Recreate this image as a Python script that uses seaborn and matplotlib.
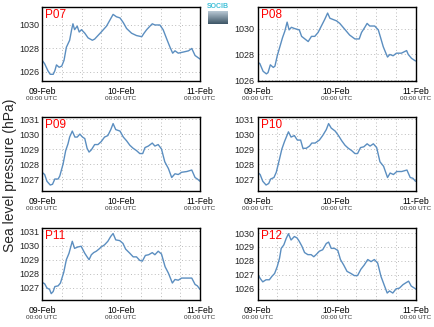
import numpy as np
import pandas as pd
import matplotlib
matplotlib.use("Agg")
import matplotlib.pyplot as plt
import matplotlib.transforms as mtransforms
from matplotlib.ticker import FixedLocator, MultipleLocator
import seaborn as sns

# ---------------- data (hours after 09-Feb 00:00 UTC, hPa) ----------------
stations = ["P07", "P08", "P09", "P10", "P11", "P12"]

p07_hours = [0, 0.8, 1.8, 2.5, 3.4, 3.9, 4.4, 5.2, 6.0, 6.7, 7.4, 8.4, 9.0, 9.4, 9.9, 10.7, 11.3, 12.0, 13.0,
             14.0, 15.3, 16.0, 17.0, 18.0, 19.6, 20.6, 21.6, 22.6, 23.7, 24.7, 25.7, 27.2, 28.7, 30.3, 31.0,
             31.8, 32.8, 33.5, 34.3, 35.8, 36.8, 37.9, 38.9, 39.7, 40.4, 41.4, 43.0, 44.5, 45.5, 46.5, 48.0]
p07_hpa = [1027.0, 1026.7, 1026.1, 1025.8, 1025.8, 1026.1, 1026.6, 1026.4, 1026.5, 1027.0, 1028.1, 1028.7,
           1029.6, 1030.1, 1029.6, 1029.9, 1029.4, 1029.6, 1029.3, 1028.9, 1028.7, 1028.8, 1029.1, 1029.4,
           1029.9, 1030.4, 1030.9, 1030.7, 1030.6, 1030.2, 1029.7, 1029.3, 1029.1, 1029.0, 1029.3, 1029.6,
           1029.9, 1030.1, 1030.0, 1030.0, 1029.6, 1028.8, 1028.1, 1027.6, 1027.8, 1027.6, 1027.7, 1027.8,
           1028.0, 1027.4, 1027.1]

p08_hours = [0, 0.7, 1.7, 2.7, 3.2, 3.9, 4.8, 5.3, 6.0, 6.8, 7.6, 8.3, 9.0, 9.6, 10.3, 11.3, 12.7, 13.4, 14.4,
             15.4, 16.4, 17.4, 18.4, 19.4, 20.4, 21.3, 22.0, 23.0, 24.0, 25.0, 26.0, 27.0, 28.0, 29.6, 30.9,
             31.6, 32.6, 33.3, 34.1, 35.6, 36.7, 37.4, 38.2, 39.0, 39.5, 40.2, 41.2, 42.2, 43.7, 45.3, 45.8,
             46.8, 48.0]
p08_hpa = [1027.4, 1027.3, 1026.7, 1026.5, 1026.6, 1027.2, 1027.0, 1027.1, 1027.9, 1028.6, 1029.3, 1029.8,
           1030.5, 1029.9, 1030.1, 1030.0, 1029.9, 1029.4, 1029.2, 1029.0, 1029.4, 1029.4, 1029.7, 1030.2,
           1030.7, 1031.2, 1030.8, 1030.7, 1030.6, 1030.4, 1030.1, 1029.8, 1029.5, 1029.2, 1029.2, 1029.7,
           1030.1, 1030.4, 1030.2, 1030.2, 1029.9, 1029.3, 1028.6, 1028.1, 1027.8, 1028.0, 1027.9, 1028.1,
           1028.1, 1028.3, 1028.0, 1027.7, 1027.5]

p09_hours = [0, 0.8, 1.5, 2.5, 3.2, 3.9, 4.9, 5.4, 6.4, 7.2, 7.9, 8.4, 9.2, 10.0, 10.7, 11.5, 12.3, 13.0, 13.7,
             14.3, 15.0, 16.0, 17.0, 18.0, 19.0, 20.0, 20.9, 21.6, 22.4, 23.7, 24.7, 25.7, 26.7, 27.7, 28.7,
             29.7, 30.6, 31.3, 32.3, 33.5, 34.3, 35.3, 36.3, 37.3, 38.4, 39.4, 40.4, 41.4, 42.4, 44.0, 45.5,
             46.5, 47.2, 48.0]
p09_hpa = [1027.45, 1027.3, 1026.85, 1026.6, 1026.65, 1027.0, 1027.0, 1027.2, 1028.0, 1028.9, 1029.35,
           1029.8, 1030.2, 1029.8, 1029.8, 1030.0, 1029.8, 1029.7, 1029.05, 1028.8, 1028.95, 1029.3, 1029.3,
           1029.5, 1029.8, 1029.9, 1030.3, 1030.7, 1030.3, 1030.2, 1029.8, 1029.55, 1029.25, 1029.05, 1028.9,
           1028.7, 1028.7, 1029.1, 1029.2, 1029.4, 1029.2, 1029.3, 1029.0, 1028.15, 1027.7, 1027.1, 1027.35,
           1027.3, 1027.45, 1027.5, 1027.6, 1027.1, 1027.0, 1026.85]

p10_hours = [0, 0.8, 1.6, 2.6, 3.4, 4.0, 5.0, 5.7, 6.7, 7.4, 8.2, 9.4, 10.2, 11.2, 12.1, 13.1, 13.8, 14.8,
             15.8, 16.5, 17.5, 18.8, 19.8, 20.9, 21.6, 22.4, 23.6, 24.6, 25.6, 26.6, 27.6, 28.6, 29.6, 30.4,
             31.3, 32.3, 33.3, 34.2, 35.2, 36.2, 37.2, 38.3, 39.5, 40.3, 41.3, 42.3, 43.8, 45.4, 46.4, 47.2, 48.0]
p10_hpa = [1027.45, 1027.3, 1026.85, 1026.6, 1026.7, 1027.0, 1027.1, 1027.45, 1028.35, 1029.0, 1029.5,
           1030.15, 1029.8, 1029.9, 1029.6, 1029.6, 1029.05, 1029.05, 1029.2, 1029.4, 1029.4, 1029.6, 1029.9,
           1030.3, 1030.7, 1030.4, 1030.2, 1029.9, 1029.55, 1029.25, 1029.05, 1028.9, 1028.7, 1028.7, 1029.1,
           1029.15, 1029.35, 1029.2, 1029.35, 1029.1, 1028.15, 1027.85, 1027.1, 1027.4, 1027.3, 1027.5, 1027.5,
           1027.6, 1027.1, 1027.05, 1026.85]

p11_hours = [0, 0.8, 1.5, 2.3, 2.8, 3.4, 3.9, 4.9, 5.6, 6.6, 7.4, 8.2, 9.2, 9.9, 10.9, 11.9, 13.0, 13.7, 14.3,
             15.0, 15.7, 16.5, 17.3, 18.0, 19.0, 20.0, 20.9, 21.6, 22.4, 23.6, 24.6, 25.4, 26.7, 27.7, 28.7,
             29.7, 30.5, 31.4, 32.4, 33.5, 34.3, 35.3, 36.3, 37.4, 38.4, 39.6, 40.4, 41.4, 42.4, 43.9, 45.5,
             46.5, 47.2, 48.0]
p11_hpa = [1027.4, 1027.3, 1027.0, 1026.9, 1026.6, 1026.75, 1027.1, 1027.15, 1027.35, 1028.1, 1029.0,
           1029.45, 1030.3, 1029.8, 1029.9, 1029.95, 1029.45, 1029.2, 1029.0, 1029.35, 1029.5, 1029.6, 1029.75,
           1029.9, 1030.05, 1030.3, 1030.65, 1030.85, 1030.4, 1030.35, 1030.15, 1029.75, 1029.45, 1029.2,
           1029.2, 1028.95, 1028.9, 1029.3, 1029.35, 1029.5, 1029.35, 1029.6, 1029.4, 1028.5, 1028.05,
           1027.35, 1027.6, 1027.55, 1027.7, 1027.7, 1027.7, 1027.25, 1027.15, 1026.9]

p12_hours = [0, 0.8, 1.6, 2.6, 3.6, 4.4, 5.2, 6.0, 6.7, 7.2, 8.0, 8.7, 9.4, 10.2, 11.2, 12.0, 12.7, 13.5,
             14.3, 15.3, 16.3, 17.1, 17.8, 18.8, 19.8, 20.9, 21.6, 22.4, 23.4, 24.4, 25.2, 26.2, 27.2, 28.4,
             29.4, 30.4, 31.4, 32.4, 33.5, 34.5, 35.5, 36.5, 37.5, 38.6, 39.4, 40.1, 41.1, 42.1, 43.1, 44.2,
             45.2, 45.9, 46.7, 48.0]
p12_hpa = [1027.1, 1026.75, 1026.5, 1026.65, 1026.65, 1026.9, 1027.1, 1027.6, 1028.2, 1028.9, 1029.15,
           1029.6, 1029.95, 1029.5, 1029.75, 1029.65, 1029.4, 1029.05, 1028.6, 1028.45, 1028.45, 1028.3,
           1028.45, 1028.7, 1028.8, 1029.25, 1029.35, 1028.9, 1028.9, 1028.75, 1028.1, 1027.7, 1027.25, 1027.1,
           1026.95, 1026.95, 1027.4, 1027.7, 1028.1, 1027.95, 1028.1, 1027.85, 1026.9, 1026.2, 1025.7, 1025.85,
           1025.7, 1026.0, 1026.05, 1026.3, 1026.45, 1026.55, 1026.2, 1026.0]

day_labels = ["09-Feb", "10-Feb", "11-Feb"]
time_label = "00:00 UTC"
ylabel = "Sea level pressure (hPa)"

y_ticks = {
    "P07": [1026, 1028, 1030],
    "P08": [1026, 1028, 1030],
    "P09": [1027, 1028, 1029, 1030, 1031],
    "P10": [1027, 1028, 1029, 1030, 1031],
    "P11": [1027, 1028, 1029, 1030, 1031],
    "P12": [1026, 1027, 1028, 1029, 1030],
}
y_limits = {
    "P07": (1025.23, 1031.53),
    "P08": (1025.95, 1031.67),
    "P09": (1026.2, 1031.14),
    "P10": (1026.2, 1031.14),
    "P11": (1026.15, 1031.24),
    "P12": (1025.2, 1030.36),
}

series = {
    "P07": (p07_hours, p07_hpa),
    "P08": (p08_hours, p08_hpa),
    "P09": (p09_hours, p09_hpa),
    "P10": (p10_hours, p10_hpa),
    "P11": (p11_hours, p11_hpa),
    "P12": (p12_hours, p12_hpa),
}

# ---------------- styling ----------------
sns.set_style("white")
plt.rcParams["font.family"] = ["Liberation Sans", "DejaVu Sans"]

W, H = 434, 327
fig = plt.figure(figsize=(W / 100, H / 100), dpi=100)

line_color = "#5b8ec0"
col_left = [42, 257.5]
row_top_bottom = [(7, 81), (117, 191), (228, 300)]
ax_w = 158

for i, name in enumerate(stations):
    r, c = divmod(i, 2)
    top, bot = row_top_bottom[r]
    left = col_left[c]
    ax = fig.add_axes([left / W, 1 - bot / H, ax_w / W, (bot - top) / H])
    hrs, vals = series[name]
    df = pd.DataFrame({"hours": hrs, "hpa": vals})
    sns.lineplot(data=df, x="hours", y="hpa", ax=ax, color=line_color, linewidth=1.0)

    ax.set_xlim(0, 48)
    ax.set_ylim(*y_limits[name])
    ax.xaxis.set_major_locator(FixedLocator([0, 24, 48]))
    ax.xaxis.set_minor_locator(MultipleLocator(6))
    ax.set_xticklabels(day_labels)
    ax.set_yticks(y_ticks[name])
    ax.set_yticklabels([str(t) for t in y_ticks[name]])
    ax.set_xlabel("")
    ax.set_ylabel("")
    ax.tick_params(axis="x", which="both", direction="in", length=2, width=0.8,
                   labelsize=6.2, pad=4, colors="black")
    ax.tick_params(axis="y", which="both", direction="in", length=0, labelsize=6.5, pad=2)
    ax.grid(True, which="both", axis="x", linestyle=(0, (1, 2.5)), color="#bbbbbb", linewidth=0.7)
    ax.grid(True, which="major", axis="y", linestyle=(0, (1, 2.5)), color="#bbbbbb", linewidth=0.7)
    for sp in ax.spines.values():
        sp.set_color("black")
        sp.set_linewidth(1.0)

    trans = mtransforms.blended_transform_factory(ax.transData, ax.transAxes)
    for t in [0, 24, 48]:
        ax.text(t, -0.205, time_label, transform=trans, ha="center", va="top",
                fontsize=4.6, color="#333333")
    ax.text(0.02, 0.97, name, transform=ax.transAxes, ha="left", va="top",
            fontsize=8.5, color="red")

fig.text(10 / W, 1 - 175 / H, ylabel, rotation=90, ha="center", va="center", fontsize=10)

# SOCIB logo (decoration)
fig.text(218 / W, 1 - 6 / H, "SOCIB", ha="center", va="center", fontsize=5,
         color="#40c0d8", fontweight="bold")
lax = fig.add_axes([208 / W, 1 - 24 / H, 20 / W, 13 / H])
grad = np.linspace(0, 1, 50).reshape(-1, 1)
lax.imshow(grad, aspect="auto", cmap=sns.blend_palette(["#b8c8d4", "#3d5566"], as_cmap=True))
lax.axis("off")

fig.savefig("out.png", dpi=100)
